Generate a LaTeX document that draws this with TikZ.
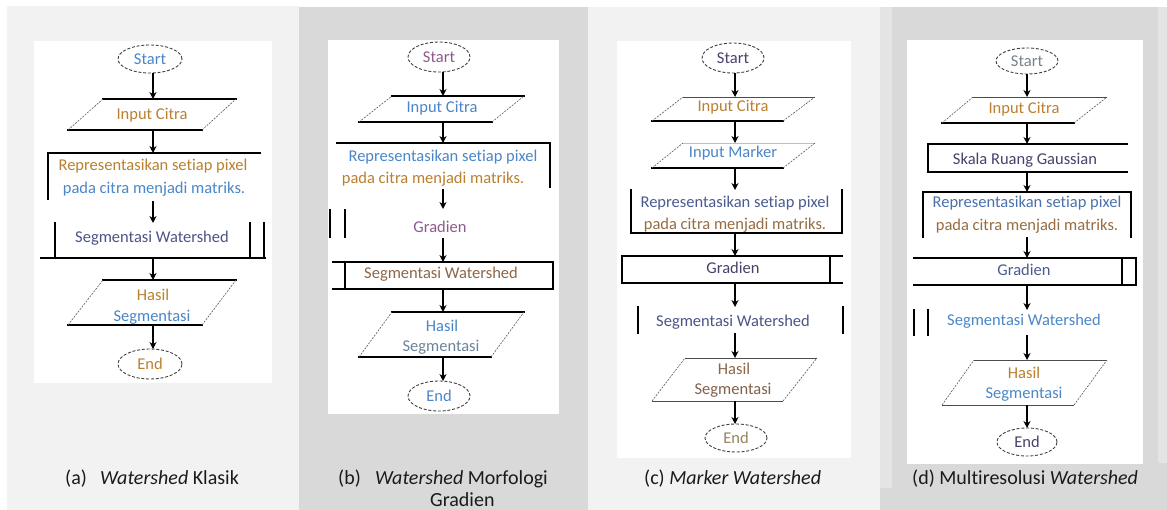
\documentclass[tikz,border=0pt]{standalone}
\usepackage{fontspec}
\setmainfont{Carlito}[Ligatures=NoCommon]
\usetikzlibrary{arrows.meta}
\definecolor{lg}{HTML}{F2F2F2}
\definecolor{dg}{HTML}{D9D9D9}
\definecolor{mg}{HTML}{E4E4E4}
\definecolor{cOr}{HTML}{B9802F}
\definecolor{cBl}{HTML}{4A86C8}
\definecolor{cDk}{HTML}{4B3F6B}
\definecolor{cPu}{HTML}{8E5A8C}
\definecolor{captc}{HTML}{1A1A1A}
\tikzset{
  boxl/.style={line width=1.8pt, black, line cap=rect},
  sidel/.style={line width=0.6pt, black!65, dash pattern=on 2pt off 1.2pt},
  thinl/.style={line width=0.7pt, black!70},
  faintl/.style={line width=0.5pt, black!25},
  terml/.style={line width=0.9pt, black!75, dash pattern=on 3pt off 1.8pt},
  arr/.style={line width=1.8pt, black, -{Stealth[length=7pt,width=7pt]}},
  lbl/.style={font=\fontsize{16.5}{18}\selectfont, inner sep=0pt},
  captxt/.style={font=\fontsize{20}{23}\selectfont, inner sep=0pt, anchor=base west, text=captc}
}
\begin{document}
\begin{tikzpicture}[x=1pt,y=-1pt]
\useasboundingbox (0,0) rectangle (1167,510);
% backgrounds
\fill[white] (0,0) rectangle (1167,510);
\fill[lg] (7,6) rectangle (299,510);
\fill[dg] (299,7) rectangle (588,510);
\fill[lg] (588,7) rectangle (880,510);
\fill[dg] (880,7) rectangle (1167,510);
\fill[mg] (880,7) rectangle (892,488);
\fill[mg] (1158,7) rectangle (1167,463);
\fill[white] (34,41) rectangle (272,383);
\fill[white] (328,40) rectangle (559,414);
\fill[white] (617,41) rectangle (851,458);
\fill[white] (907,40) rectangle (1143,464);

%% ================= Panel (a)
\node[lbl,text=cBl] (aS) at (150,59) {Start};
\draw[terml] (aS.center) ellipse [x radius=32pt, y radius=14pt];
\coordinate (aSb) at (153,73);
\coordinate (aIt) at (153,99); \coordinate (aIb) at (153,130);
\draw[boxl] (103,99) -- (236,99);
\draw[boxl] (68,130) -- (202,130);
\draw[sidel] (68,130) -- (103,99) (202,130) -- (236,99);
\node[lbl,text=cOr] (aI) at (152,115) {Input Citra};
\coordinate (aRt) at (153,153); \coordinate (aRb) at (153,201);
\draw[boxl] (48,199) -- (48,153) -- (260,153);
\node[lbl,text=cOr] (aR1) at (153,166) {Representasikan setiap pixel};
\node[lbl,text=cBl] (aR2) at (154,189) {pada citra menjadi matriks.};
\coordinate (aGt) at (153,223); \coordinate (aGb) at (153,258);
\draw[boxl] (55,223) -- (55,258) (41,258) -- (265,258) (250,223) -- (250,258) (264,223) -- (264,258);
\node[lbl,text=cDk!70!cBl] (aG) at (152,238) {Segmentasi Watershed};
\coordinate (aHt) at (153,280); \coordinate (aHb) at (153,325);
\draw[boxl] (103,280) -- (236,280);
\draw[boxl] (68,325) -- (202,325);
\draw[sidel] (68,325) -- (103,280) (202,325) -- (236,280);
\node[lbl,text=cOr] (aH1) at (153,295) {Hasil};
\node[lbl,text=cBl] (aH2) at (152,317) {Segmentasi};
\node[lbl,text=cOr] (aE) at (150,364) {End};
\draw[terml] (aE.center) ellipse [x radius=32pt, y radius=15pt];
\coordinate (aEt) at (153,349);
\draw[arr] (aSb) -- (aIt);
\draw[arr] (aIb) -- (aRt);
\draw[arr] (aRb) -- (aGt);
\draw[arr] (aGb) -- (aHt);
\draw[arr] (aHb) -- (aEt);
\node[captxt] (capa1) at (65,484) {(a)};
\node[captxt] (capa2) at (100,484) {\textit{Watershed} Klasik};

%% ================= Panel (b)
\node[lbl,text=cPu] (bS) at (439,57) {Start};
\draw[terml] (bS.center) ellipse [x radius=31pt, y radius=15pt];
\coordinate (bSb) at (443,72);
\coordinate (bIt) at (443,96); \coordinate (bIb) at (443,122);
\draw[boxl] (392,96) -- (524,96);
\draw[boxl] (359,122) -- (492,122);
\draw[sidel] (359,122) -- (392,96) (492,122) -- (524,96);
\node[lbl,text=cBl] (bI) at (442,108) {Input Citra};
\coordinate (bRt) at (443,143); \coordinate (bRb) at (443,189);
\draw[boxl] (337,143) -- (550,143) -- (550,187);
\node[lbl,text=cBl] (bR1) at (443,157) {Representasikan setiap pixel};
\node[lbl,text=cOr] (bR2) at (433,179) {pada citra menjadi matriks.};
\coordinate (bDt) at (443,209); \coordinate (bDb) at (443,238);
\draw[boxl] (330,210) -- (330,237) (345,210) -- (345,237);
\node[lbl,text=cPu] (bD) at (440,227) {Gradien};
\coordinate (bGt) at (443,262); \coordinate (bGb) at (443,289);
\draw[boxl] (333,262) -- (553,262) -- (553,289) -- (333,289) (345,262) -- (345,289);
\node[lbl,text=cOr!60!cDk] (bG) at (441,274) {Segmentasi Watershed};
\coordinate (bHt) at (443,312); \coordinate (bHb) at (443,357);
\draw[boxl] (392,312) -- (524,312);
\draw[boxl] (359,357) -- (491,357);
\draw[sidel] (359,357) -- (392,312) (491,357) -- (524,312);
\node[lbl,text=cBl] (bH1) at (442,326) {Hasil};
\node[lbl,text=cBl!70!cOr] (bH2) at (441,347) {Segmentasi};
\node[lbl,text=cBl] (bE) at (439,396) {End};
\draw[terml] (bE.center) ellipse [x radius=31pt, y radius=15pt];
\coordinate (bEt) at (443,381);
\draw[arr] (bSb) -- (bIt);
\draw[arr] (bIb) -- (bRt);
\draw[arr] (bRb) -- (bDt);
\draw[arr] (bDb) -- (bGt);
\draw[arr] (bGb) -- (bHt);
\draw[arr] (bHb) -- (bEt);
\node[captxt] (capb1) at (338,484) {(b)};
\node[captxt] (capb2) at (375,484) {\textit{Watershed} Morfologi};
\node[captxt] (capb3) at (430,506) {Gradien};

%% ================= Panel (c)
\node[lbl,text=cDk] (cS) at (733,58) {Start};
\draw[terml] (cS.center) ellipse [x radius=31pt, y radius=15pt];
\coordinate (cSb) at (735,73);
\coordinate (cIt) at (735,97); \coordinate (cIb) at (735,121);
\draw[thinl] (683,97) -- (815,97);
\draw[boxl] (652,121) -- (783,121);
\draw[sidel] (652,121) -- (683,97) (783,121) -- (815,97);
\node[lbl,text=cOr] (cI) at (733,107) {Input Citra};
\coordinate (cMt) at (735,143); \coordinate (cMb) at (735,168);
\draw[faintl] (683,143) -- (815,143);
\draw[boxl] (652,168) -- (783,168);
\draw[sidel] (652,168) -- (683,143) (783,168) -- (815,143);
\node[lbl,text=cBl] (cM) at (733,153) {Input Marker};
\coordinate (cRt) at (735,190); \coordinate (cRb) at (735,233);
\draw[boxl] (631,190) -- (631,233) -- (842,233) -- (842,190);
\node[lbl,text=cDk!60!cBl] (cR1) at (735,203) {Representasikan setiap pixel};
\node[lbl,text=cOr!70!cDk] (cR2) at (735,225) {pada citra menjadi matriks.};
\coordinate (cDt) at (735,256); \coordinate (cDb) at (735,283);
\draw[boxl] (842,256) -- (622,256) -- (622,283) -- (842,283) (830,256) -- (830,283);
\node[lbl,text=cDk] (cD) at (733,268) {Gradien};
\coordinate (cGt) at (735,307); \coordinate (cGb) at (735,333);
\draw[boxl] (638,307) -- (638,333) (843,307) -- (843,333);
\node[lbl,text=cDk!70!cBl] (cG) at (733,322) {Segmentasi Watershed};
\coordinate (cHt) at (735,358); \coordinate (cHb) at (735,401);
\draw[thinl] (685,358) -- (817,358);
\draw[thinl] (652,401) -- (783,401);
\draw[sidel] (652,401) -- (685,358) (783,401) -- (817,358);
\node[lbl,text=cOr!60!cDk] (cH1) at (734,369) {Hasil};
\node[lbl,text=cOr!50!cDk] (cH2) at (733,390) {Segmentasi};
\node[lbl,text=cOr!70!cBl] (cE) at (736,438) {End};
\draw[terml] (cE.center) ellipse [x radius=31pt, y radius=14pt];
\coordinate (cEt) at (735,424);
\draw[arr] (cSb) -- (cIt);
\draw[arr] (cIb) -- (cMt);
\draw[arr] (cMb) -- (cRt);
\draw[arr] (cRb) -- (cDt);
\draw[arr] (cDb) -- (cGt);
\draw[arr] (cGb) -- (cHt);
\draw[arr] (cHb) -- (cEt);
\node[captxt] (capc) at (644,484) {(c) \textit{Marker Watershed}};

%% ================= Panel (d)
\node[lbl,text=cBl!60!cOr] (dS) at (1027,61) {Start};
\draw[terml] (dS.center) ellipse [x radius=31pt, y radius=13pt];
\coordinate (dSb) at (1027,74);
\coordinate (dIt) at (1027,97); \coordinate (dIb) at (1027,123);
\draw[thinl] (973,97) -- (1107,97);
\draw[boxl] (942,123) -- (1074,123);
\draw[sidel] (942,123) -- (973,97) (1074,123) -- (1107,97);
\node[lbl,text=cOr] (dI) at (1024,109) {Input Citra};
\coordinate (dKt) at (1027,144); \coordinate (dKb) at (1027,172);
\draw[boxl] (1127,144) -- (928,144) -- (928,172) -- (1127,172);
\node[lbl,text=cDk] (dK) at (1025,160) {Skala Ruang Gaussian};
\coordinate (dRt) at (1027,192); \coordinate (dRb) at (1027,237);
\draw[boxl] (923,237) -- (923,192) -- (1131,192) -- (1131,237);
\node[lbl,text=cBl!70!cDk] (dR1) at (1027,203) {Representasikan setiap pixel};
\node[lbl,text=cOr!70!cDk] (dR2) at (1027,226) {pada citra menjadi matriks.};
\coordinate (dDt) at (1027,258); \coordinate (dDb) at (1027,285);
\draw[boxl] (914,258) -- (1136,258) -- (1136,285) -- (914,285) (1122,258) -- (1122,285);
\node[lbl,text=cDk!60!cBl] (dD) at (1024,270) {Gradien};
\coordinate (dGt) at (1027,310); \coordinate (dGb) at (1027,335);
\draw[boxl] (914,310) -- (914,335) (928,310) -- (928,335);
\node[lbl,text=cBl] (dG) at (1024,321) {Segmentasi Watershed};
\coordinate (dHt) at (1027,360); \coordinate (dHb) at (1027,405);
\draw[thinl] (974,360) -- (1107,360);
\draw[thinl] (942,405) -- (1074,405);
\draw[sidel] (942,405) -- (974,360) (1074,405) -- (1107,360);
\node[lbl,text=cOr] (dH1) at (1024,373) {Hasil};
\node[lbl,text=cBl] (dH2) at (1024,394) {Segmentasi};
\node[lbl,text=cDk] (dE) at (1027,442) {End};
\draw[terml] (dE.center) ellipse [x radius=30pt, y radius=14pt];
\coordinate (dEt) at (1027,428);
\draw[arr] (dSb) -- (dIt);
\draw[arr] (dIb) -- (dKt);
\draw[arr] (dKb) -- (dRt);
\draw[arr] (dRb) -- (dDt);
\draw[arr] (dDb) -- (dGt);
\draw[arr] (dGb) -- (dHt);
\draw[arr] (dHb) -- (dEt);
\node[captxt] (capd) at (912,484) {(d) Multiresolusi \textit{Watershed}};
\end{tikzpicture}
\end{document}
